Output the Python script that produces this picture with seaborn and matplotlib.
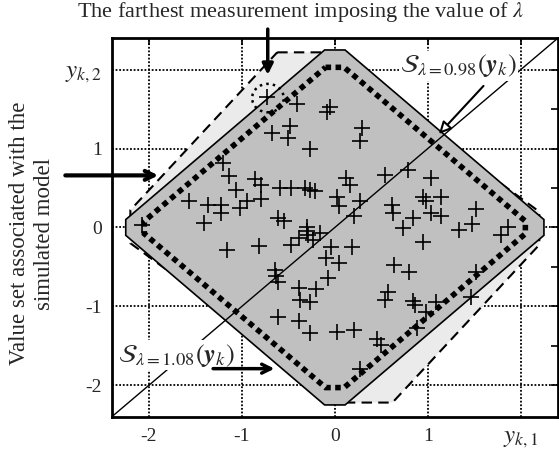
import numpy as np
import pandas as pd
import matplotlib
matplotlib.use('Agg')
import matplotlib.pyplot as plt
from matplotlib.patches import Polygon, Ellipse
import seaborn as sns

# measurements y_k = (y_k1, y_k2)
meas_x = [-0.73, -0.41, -0.05, -0.08, -0.48, -0.68, -0.50, -0.27, 0.29, 0.27,
          -1.20, -1.14, -0.86, -0.79, -1.06, -0.59, -0.47, -0.32, -0.27, -0.21,
          -0.79, -0.95, -1.02, -1.57, -1.36, -1.22, -1.22, -1.41, -2.07, 0.12,
          0.16, 0.02, 0.04, 0.27, 0.21, -0.61, -0.55, -0.30, -0.30, -0.29,
          -0.16, -0.39, -0.47, -0.23, -0.82, -1.16, -0.04, 0.18, -0.09, 0.04,
          -0.64, -0.63, -0.61, -0.07, -0.39, -0.20, -0.38, -0.27, -0.61, -0.39,
          -0.27, 0.02, 0.21, 0.45, 0.50, 0.27, 0.54, 0.79, 1.04, 0.61,
          0.63, 0.95, 0.98, 1.14, 1.04, 1.14, 0.84, 0.73, 1.52, 1.48,
          1.34, 1.86, 1.79, 0.95, 0.64, 0.80, 1.52, 0.57, 0.54, 0.84,
          0.86, 1.09, 0.98, 1.46, 0.88]
meas_y = [1.65, 1.57, 1.53, 1.46, 1.28, 1.20, 1.14, 1.00, 1.26, 1.09,
          0.82, 0.65, 0.61, 0.54, 0.48, 0.50, 0.50, 0.50, 0.48, 0.46,
          0.36, 0.33, 0.25, 0.33, 0.29, 0.29, 0.18, 0.06, 0.03, 0.63,
          0.54, 0.39, 0.27, 0.33, 0.14, 0.12, 0.08, 0.01, -0.05, -0.09,
          -0.07, -0.14, -0.22, -0.16, -0.23, -0.28, -0.25, -0.25, -0.39, -0.45,
          -0.54, -0.62, -0.69, -0.64, -0.77, -0.78, -0.92, -0.94, -1.13, -1.19,
          -1.34, -1.32, -1.30, -1.41, -1.49, -1.79, 0.67, 0.73, 0.63, 0.29,
          0.18, 0.39, 0.33, 0.39, 0.18, 0.14, 0.12, -0.01, 0.23, 0.05,
          -0.03, 0.01, -0.09, -0.18, -0.47, -0.56, -0.56, -0.82, -0.92, -0.93,
          -0.98, -0.94, -1.07, -0.88, -1.28]

# value set for lambda = 1.08 (light, dashed)
set108_x = [-0.62, -0.14, 2.2, 2.2, 0.62, 0.14, -2.2, -2.2]
set108_y = [2.22, 2.22, 0.2, -0.22, -2.22, -2.22, -0.2, 0.22]
# value set associated with the simulated model (gray)
model_x = [-0.11, 0.11, 2.25, 2.25, 0.11, -0.11, -2.25, -2.25]
model_y = [2.25, 2.25, 0.1, -0.1, -2.25, -2.25, -0.1, 0.1]
# value set for lambda = 0.98 (thick dotted)
set098_x = [-0.1, 0.1, 2.05, 2.05, 0.1, -0.1, -2.05, -2.05]
set098_y = [2.03, 2.03, 0.08, -0.08, -2.03, -2.03, -0.08, 0.08]

ticks = [-2, -1, 0, 1, 2]
xtick_labels = ['-2', '-1', '0', '1', r'$y_{k,1}$']
ytick_labels = ['-2', '-1', '0', '1', r'$y_{k,2}$']
farthest = (-0.72, 1.64)

sns.set_style('white')
plt.rcParams['font.family'] = ['Liberation Serif', 'DejaVu Serif']
plt.rcParams['mathtext.fontset'] = 'stix'

df = pd.DataFrame({'y1': meas_x, 'y2': meas_y})

fig = plt.figure(figsize=(5.59, 4.54), dpi=100)
ax = fig.add_axes([0.2, 0.082, 0.798, 0.834])

ax.add_patch(Polygon(np.column_stack([set108_x, set108_y]), closed=True, fc='#ebebeb',
                     ec='black', lw=1.5, ls=(0, (5, 3)), zorder=1))
ax.add_patch(Polygon(np.column_stack([model_x, model_y]), closed=True, fc='#c0c0c0',
                     ec='black', lw=1.2, zorder=2))
ax.add_patch(Polygon(np.column_stack([set098_x, set098_y]), closed=True, fill=False,
                     ec='black', lw=4, ls=(0, (1, 0.8)), zorder=3))
ax.axline((0, 0), slope=1, color='black', lw=1, zorder=3)

sns.scatterplot(data=df, x='y1', y='y2', marker='+', s=120, color='black',
                linewidth=1.2, ax=ax, zorder=4, legend=False)

ax.add_patch(Ellipse(farthest, 0.34, 0.36, fill=False, ec='black', lw=1.8, ls=':', zorder=5))

ax.set_xlim(-2.4, 2.4)
ax.set_ylim(-2.4, 2.4)
ax.set_xticks(ticks)
ax.set_xticklabels(xtick_labels)
ax.set_yticks(ticks)
ax.set_yticklabels(ytick_labels)
ax.set_yticks([-1.5, -0.5, 0.5, 1.5], minor=True)
ax.tick_params(which='both', direction='in', top=True, right=True, length=5,
               width=1.2, color='black', labelsize=14)
ax.tick_params(axis='x', pad=8)
ax.tick_params(axis='y', pad=7)
ax.get_xticklabels()[-1].set_fontsize(18)
ax.get_yticklabels()[-1].set_fontsize(18)
ax.set_xlabel('')
ax.set_ylabel('')
ax.grid(True, which='major', color='black', ls=(0, (1, 1)), lw=1.3)
ax.set_axisbelow(True)
for s in ax.spines.values():
    s.set_linewidth(2)
    s.set_color('black')

# labels of the value sets
ax.text(1.33, 2.05, r'$\mathcal{S}_{\lambda=0.98}\left(\boldsymbol{y}_k\right)$', fontsize=19,
        ha='center', va='center', zorder=6, bbox=dict(fc='white', ec='none', pad=1))
ax.annotate('', xy=(1.1, 1.16), xytext=(1.62, 1.82),
            arrowprops=dict(arrowstyle='-|>', lw=1.5, fc='white', ec='black', mutation_scale=18),
            zorder=6)
ax.text(-1.7, -1.62, r'$\mathcal{S}_{\lambda=1.08}\left(\boldsymbol{y}_k\right)$', fontsize=19,
        ha='center', va='center', zorder=6, bbox=dict(fc='white', ec='none', pad=1))
ax.annotate('', xy=(-0.62, -1.79), xytext=(-1.34, -1.79),
            arrowprops=dict(arrowstyle='->', lw=2.5, color='black', mutation_scale=16),
            zorder=6)

# arrow from title to farthest measurement
ax.annotate('', xy=(-0.722, 1.9), xytext=(-0.722, 2.55),
            arrowprops=dict(arrowstyle='-|>', lw=2.5, color='black', mutation_scale=16),
            annotation_clip=False, zorder=6)
# arrow from side label to model value set
ax.annotate('', xy=(-1.87, 0.66), xytext=(-2.93, 0.66),
            arrowprops=dict(arrowstyle='->', lw=3, color='black', mutation_scale=16),
            annotation_clip=False, zorder=6)

fig.text(0.537, 0.974, r'The farthest measurement imposing the value of $\lambda$',
         fontsize=16, ha='center', va='center')
fig.text(0.058, 0.485, 'Value set associated with the\nsimulated model', rotation=90,
         fontsize=16.5, ha='center', va='center', multialignment='center', linespacing=1.25)

fig.savefig('out.png', dpi=100)
